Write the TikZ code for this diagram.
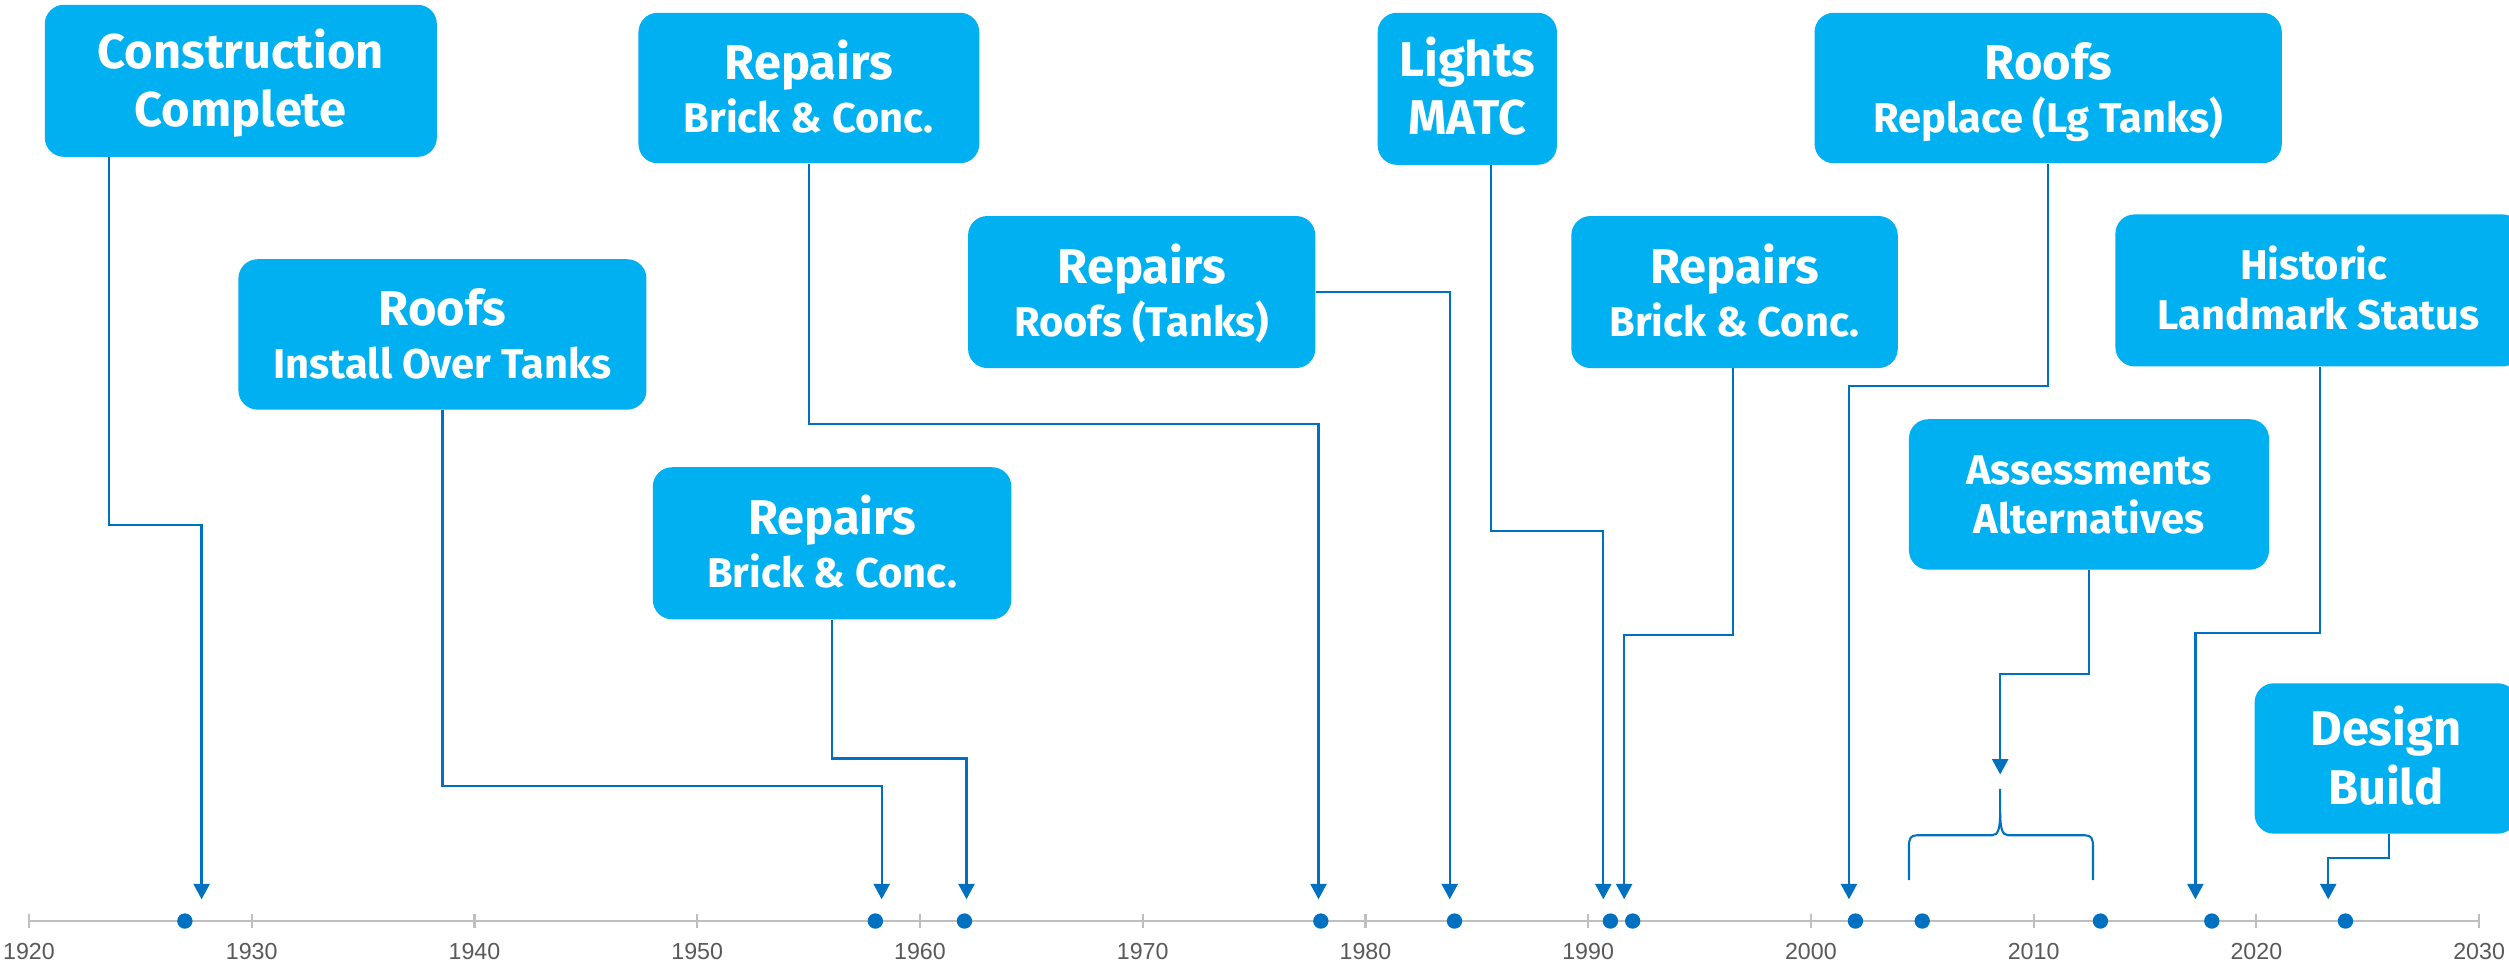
\documentclass[tikz,border=0pt]{standalone}
\usepackage{fontspec}
\setmainfont{Fira Sans}
\newfontfamily\boxfont{Fira Sans}
\newfontfamily\axisfont{Liberation Sans}
\usetikzlibrary{arrows.meta}
\definecolor{boxblue}{HTML}{00B0F0}
\definecolor{lineblue}{HTML}{0070C0}
\definecolor{axisgray}{HTML}{BFBFBF}
\definecolor{labelgray}{HTML}{595959}
\begin{document}
\begin{tikzpicture}[x=1pt,y=-1pt,
  box/.style={fill=boxblue, rounded corners=12pt, inner sep=0pt},
  bigt/.style={anchor=base, text=white, inner sep=0pt, font=\boxfont\bfseries\fontsize{30.5}{36}\selectfont},
  smallt/.style={anchor=base, text=white, inner sep=0pt, font=\boxfont\bfseries\fontsize{26}{30}\selectfont},
  conn/.style={draw=lineblue, line width=1.4pt, -{Triangle[length=9.6pt,width=10pt]}},
  brace/.style={draw=lineblue, line width=1.3pt},
  dot/.style={circle, fill=lineblue, minimum size=9.6pt, inner sep=0pt},
  axisline/.style={draw=axisgray, line width=1.4pt},
  ticklab/.style={anchor=base, text=labelgray, inner sep=0pt, font=\axisfont\fontsize{14.5}{16}\selectfont}]
\useasboundingbox (0,0) rectangle (1568,603.1);

% axis
\draw[axisline] (18.1,575.6) -- (1549.3,575.6);
\foreach \yr in {1920,1930,...,2030}{
  \draw[axisline] ({18.1+(\yr-1920)*13.92},571) -- ({18.1+(\yr-1920)*13.92},580.2);
  \node[ticklab] (lab\yr) at ({18.1+(\yr-1920)*13.92},599.5) {\yr};
}
% dots
\foreach \yr in {1927,1958,1962,1978,1984,1991,1992,2002,2005,2013,2018,2024}{
  \node[dot] (d\yr) at ({18.1+(\yr-1920)*13.92},575.6) {};
}

% boxes
\node[box, minimum width=245pt, minimum height=95pt] (cc) at (150.5,50.5) {};
\node[bigt] (cc1) at (150.5,42.7) {Construction};
\node[bigt] (cc2) at (150.5,79) {Complete};

\node[box, minimum width=255pt, minimum height=94pt] (rf1) at (276.5,209) {};
\node[bigt] (rf1a) at (276.5,203.5) {Roofs};
\node[smallt] (rf1b) at (276.5,236.5) {Install Over Tanks};

\node[box, minimum width=213pt, minimum height=94pt] (rp1) at (505.5,55) {};
\node[bigt] (rp1a) at (505.5,49.5) {Repairs};
\node[smallt] (rp1b) at (505.5,82.5) {Brick \& Conc.};

\node[box, minimum width=217pt, minimum height=95pt] (rp2) at (713.5,182.5) {};
\node[bigt] (rp2a) at (713.5,177) {Repairs};
\node[smallt] (rp2b) at (713.5,210) {Roofs (Tanks)};

\node[box, minimum width=224pt, minimum height=95pt] (rp3) at (520,339.5) {};
\node[bigt] (rp3a) at (520,334) {Repairs};
\node[smallt] (rp3b) at (520,367) {Brick \& Conc.};

\node[box, minimum width=112pt, minimum height=95pt] (lt) at (917,55.5) {};
\node[bigt] (lta) at (917,47.7) {Lights};
\node[bigt] (ltb) at (917,84) {MATC};

\node[box, minimum width=204pt, minimum height=95pt] (rp4) at (1084,182.5) {};
\node[bigt] (rp4a) at (1084,177) {Repairs};
\node[smallt] (rp4b) at (1084,210) {Brick \& Conc.};

\node[box, minimum width=292pt, minimum height=94pt] (rf2) at (1280,55) {};
\node[bigt] (rf2a) at (1280,49.5) {Roofs};
\node[smallt] (rf2b) at (1280,82.5) {Replace (Lg Tanks)};

\node[box, minimum width=254pt, minimum height=95pt] (hl) at (1449,181.5) {};
\node[smallt] (hla) at (1446,174.5) {Historic};
\node[smallt] (hlb) at (1449,206) {Landmark Status};

\node[box, minimum width=225pt, minimum height=94pt] (as) at (1305.5,309) {};
\node[smallt] (asa) at (1305.5,302.5) {Assessments};
\node[smallt] (asb) at (1305.5,333.5) {Alternatives};

\node[box, minimum width=164pt, minimum height=94pt] (db) at (1491,474) {};
\node[bigt] (dba) at (1491,466) {Design};
\node[bigt] (dbb) at (1491,502.5) {Build};

% connector tips and corners
\coordinate (t1) at (126,562);   \coordinate (k1) at (126,328);
\coordinate (t2) at (551,562);   \coordinate (k2) at (551,491);
\coordinate (t3) at (824,562);   \coordinate (k3) at (824,265);
\coordinate (t4) at (906,562);
\coordinate (t5) at (604,562);   \coordinate (k5) at (604,474);
\coordinate (t6) at (1002,562);  \coordinate (k6) at (1002,332);
\coordinate (t7) at (1015,562);  \coordinate (k7) at (1015,397);
\coordinate (t8) at (1155.5,562);\coordinate (k8) at (1155.5,241);
\coordinate (t9) at (1372,562);  \coordinate (k9) at (1372,395.5);
\coordinate (t10) at (1250,484); \coordinate (k10) at (1250,421);
\coordinate (t11) at (1455,562); \coordinate (k11) at (1455,536);

\draw[conn] ([xshift=-82.5pt]cc.south) |- (k1) -- (t1);
\draw[conn] (rf1.south) |- (k2) -- (t2);
\draw[conn] (rp1.south) |- (k3) -- (t3);
\draw[conn] (rp2.east) -| (t4);
\draw[conn] (rp3.south) |- (k5) -- (t5);
\draw[conn] ([xshift=15pt]lt.south) |- (k6) -- (t6);
\draw[conn] ([xshift=-1pt]rp4.south) |- (k7) -- (t7);
\draw[conn] (rf2.south) |- (k8) -- (t8);
\draw[conn] ([xshift=1pt]hl.south) |- (k9) -- (t9);
\draw[conn] (as.south) |- (k10) -- (t10);
\draw[conn] ([xshift=2pt]db.south) |- (k11) -- (t11);

% brace
\draw[brace] (1193,550) -- (1193,529) .. controls (1193,524) and (1194,522) .. (1198,522)
  -- (1245,522) .. controls (1249,522) and (1250,517) .. (1250,507) -- (1250,493);
\draw[brace] (1250,507) .. controls (1250,517) and (1251,522) .. (1255,522)
  -- (1303,522) .. controls (1307,522) and (1308,524) .. (1308,529) -- (1308,550);
\end{tikzpicture}
\end{document}
